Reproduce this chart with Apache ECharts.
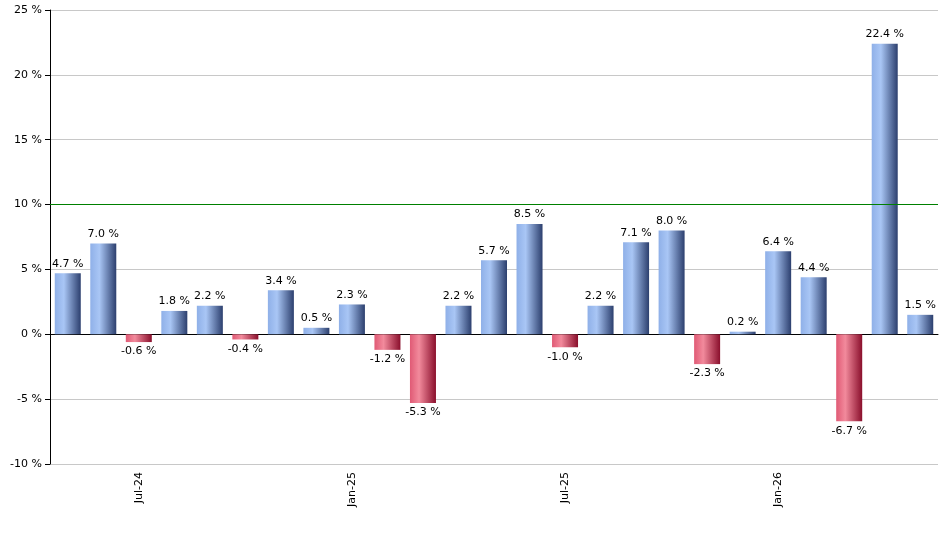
<!DOCTYPE html><html><head><meta charset="utf-8"><script src="https://cdn.jsdelivr.net/npm/echarts@6/dist/echarts.min.js"></script></head><body style="margin:0"><div id="c" style="width:940px;height:550px"></div><script>
const categories=['May-24','Jun-24','Jul-24','Aug-24','Sep-24','Oct-24','Nov-24','Dec-24','Jan-25','Feb-25','Mar-25','Apr-25','May-25','Jun-25','Jul-25','Aug-25','Sep-25','Oct-25','Nov-25','Dec-25','Jan-26','Feb-26','Mar-26','Apr-26','May-26'];
const values=[4.7,7.0,-0.6,1.8,2.2,-0.4,3.4,0.5,2.3,-1.2,-5.3,2.2,5.7,8.5,-1.0,2.2,7.1,8.0,-2.3,0.2,6.4,4.4,-6.7,22.4,1.5];
const shownLabels=['Jul-24','Jan-25','Jul-25','Jan-26'];
const g=(a,b,c)=>new echarts.graphic.LinearGradient(0,0,1,0,[{offset:0,color:a},{offset:0.35,color:b},{offset:1,color:c}]);
const blue=g('#8fb0e8','#a9c6f5','#2c3f6e'), red=g('#e05a75','#f28a9c','#8a0f2c');
const ch=echarts.init(document.getElementById('c'));
ch.setOption({animation:false,grid:{left:50,right:2,top:10,bottom:86},
xAxis:{type:'category',data:categories,axisLine:{lineStyle:{color:'#000'}},
axisTick:{alignWithLabel:true,interval:(i,v)=>shownLabels.includes(v),lineStyle:{color:'#000'}},
axisLabel:{rotate:90,fontSize:11,color:'#000',fontFamily:'DejaVu Sans',interval:(i,v)=>shownLabels.includes(v)}},
yAxis:{type:'value',min:-10,max:25,interval:5,axisLine:{show:true,lineStyle:{color:'#000'}},axisTick:{show:true,lineStyle:{color:'#000'}},
axisLabel:{formatter:'{value} %',fontSize:11,color:'#000',fontFamily:'DejaVu Sans'},splitLine:{lineStyle:{color:'#c8c8c8'}}},
series:[{type:'bar',barWidth:26,data:values.map(v=>({value:v,itemStyle:{color:v>=0?blue:red},label:{position:v>=0?'top':'bottom'}})),
label:{show:true,formatter:p=>p.value.toFixed(1)+' %',fontSize:11,color:'#000',fontFamily:'DejaVu Sans',distance:4},
markLine:{silent:true,symbol:'none',label:{show:false},lineStyle:{color:'#008000',type:'solid',width:1},data:[{yAxis:10}]}}]});
</script></body></html>
